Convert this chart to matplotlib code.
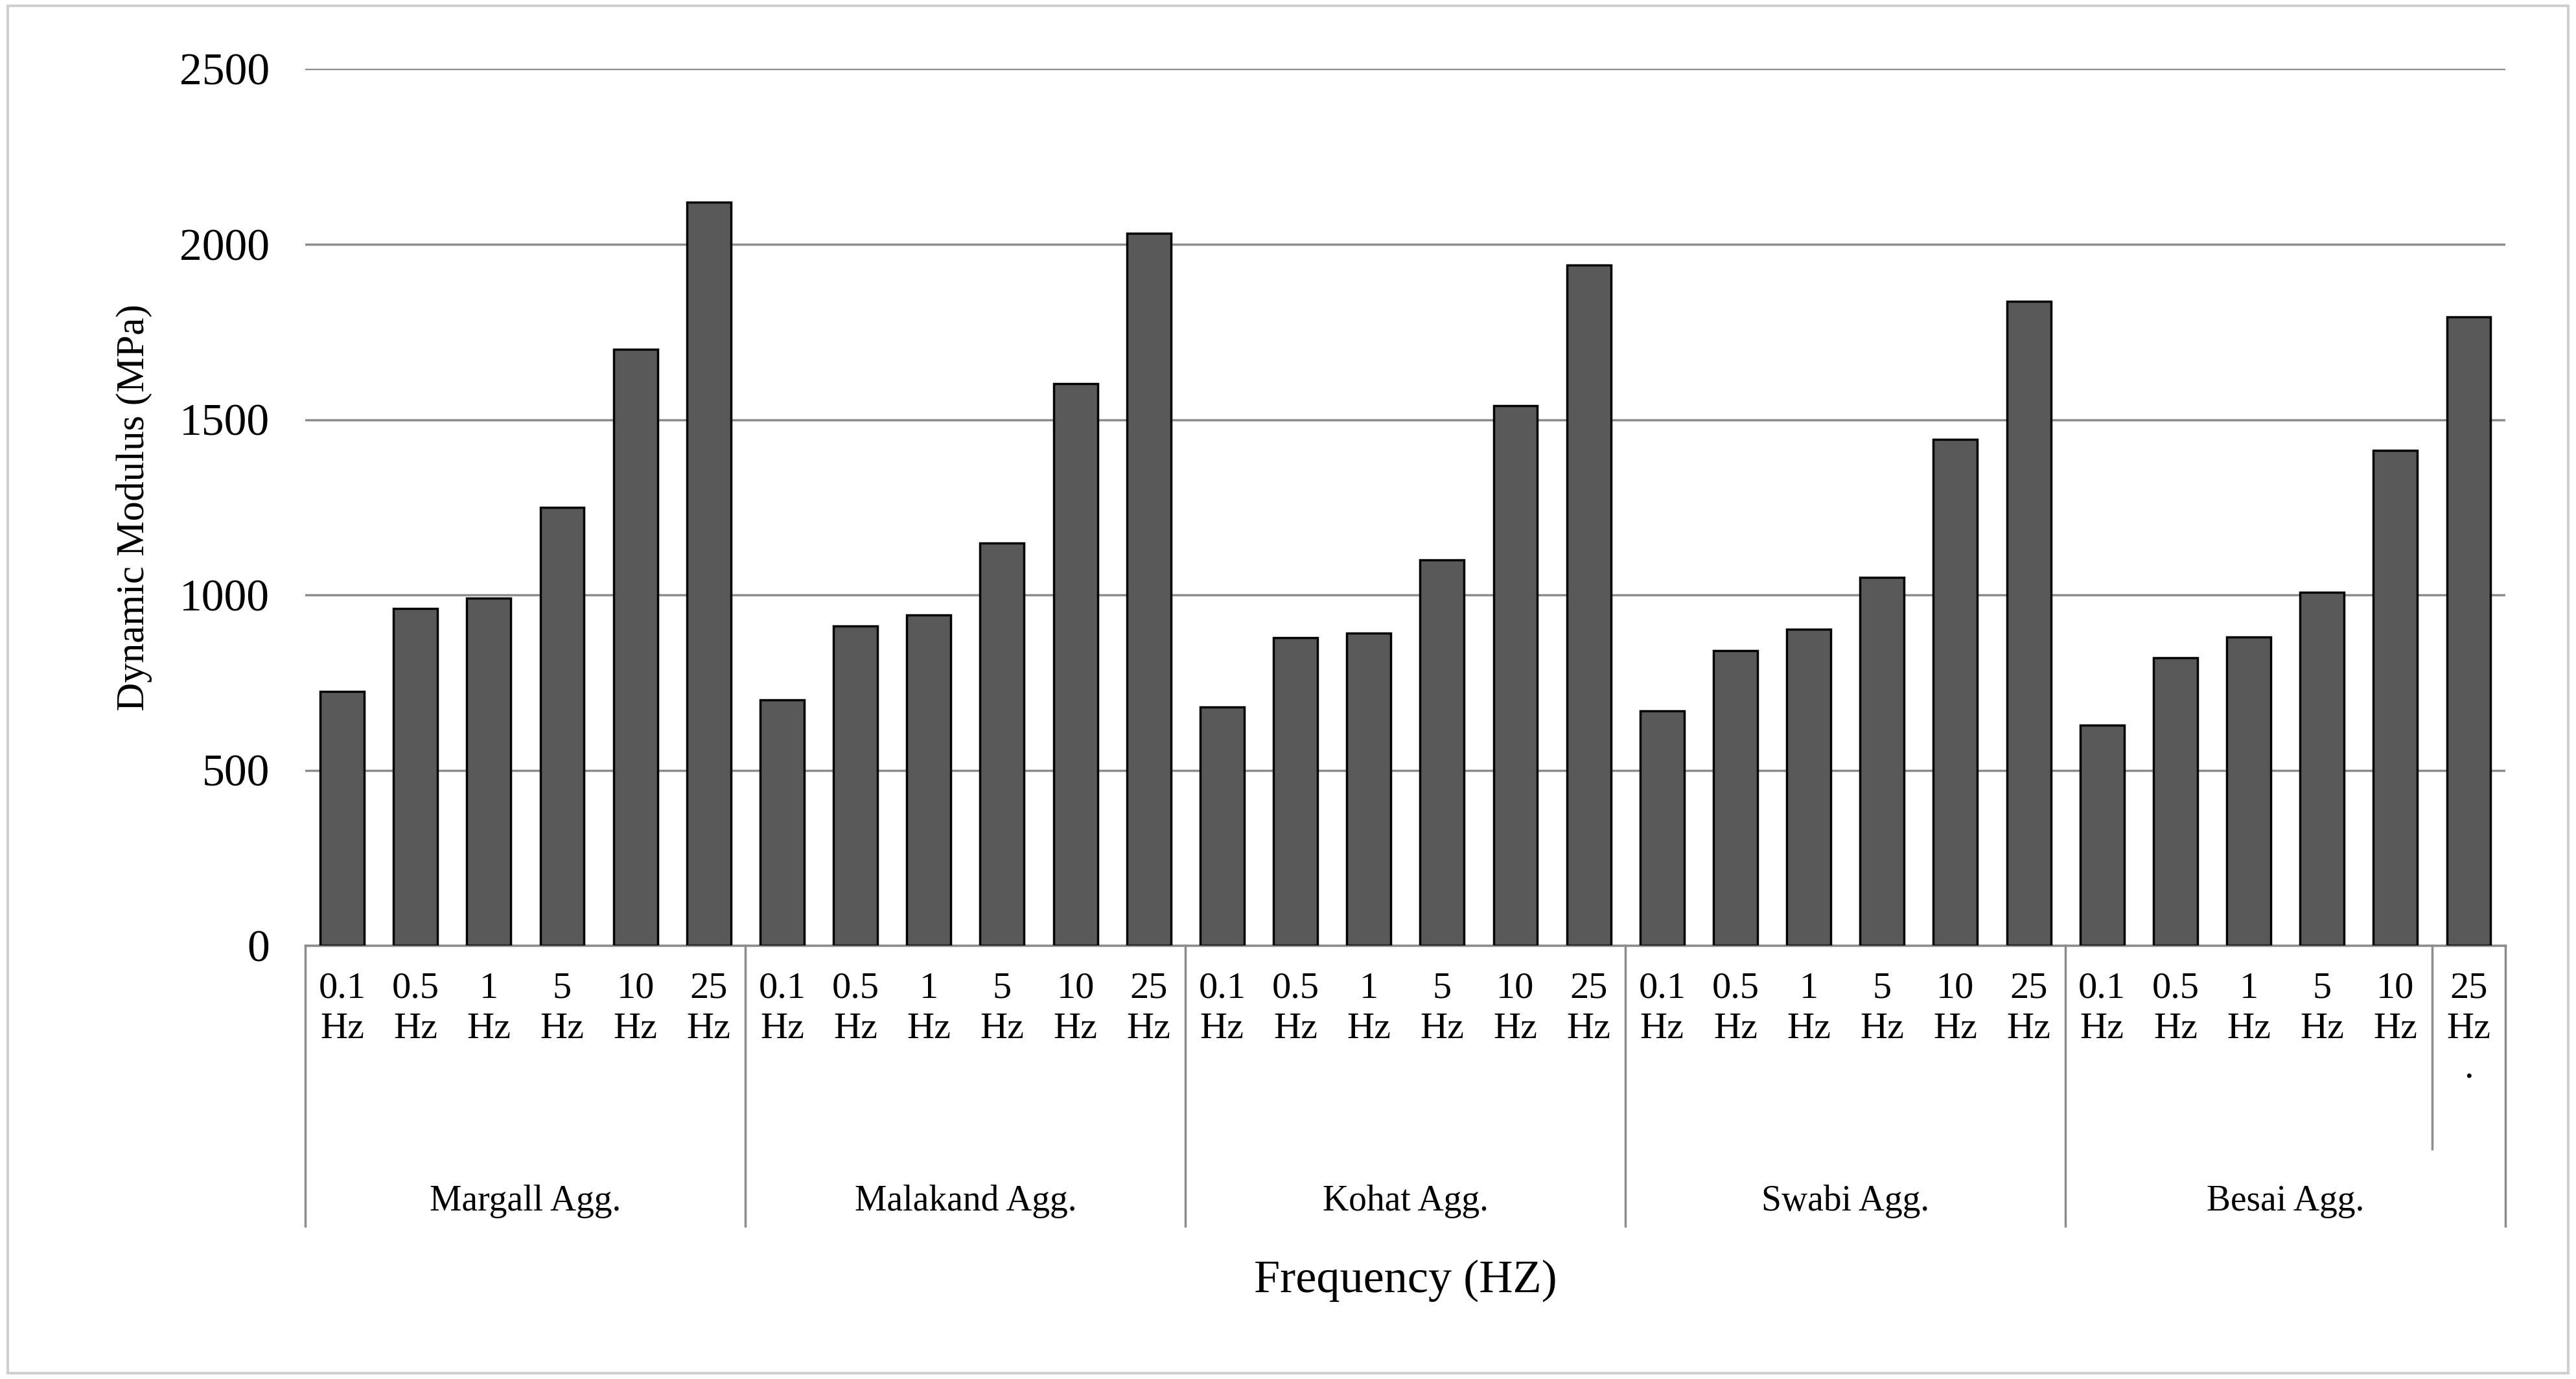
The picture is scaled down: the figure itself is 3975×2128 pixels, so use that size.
import matplotlib
matplotlib.use('Agg')
import matplotlib.pyplot as plt
from matplotlib.patches import Rectangle

groups = ['Margall Agg.', 'Malakand Agg.', 'Kohat Agg.', 'Swabi Agg.', 'Besai Agg.']
freqs = ['0.1', '0.5', '1', '5', '10', '25']
margall = [725, 962, 990, 1250, 1700, 2120]
malakand = [700, 912, 942, 1148, 1602, 2032]
kohat = [680, 878, 892, 1100, 1540, 1940]
swabi = [670, 842, 903, 1050, 1443, 1838]
besai = [628, 820, 880, 1008, 1412, 1793]
series = [margall, malakand, kohat, swabi, besai]

plt.rcParams['font.family'] = ['Liberation Serif', 'DejaVu Serif']
fig = plt.figure(figsize=(39.75, 21.28), dpi=100)
fig.patches.append(Rectangle((0.003, 0.004), 0.994, 0.992, transform=fig.transFigure,
                             fill=False, edgecolor='#d0d0d0', linewidth=3))
ax = fig.add_axes([0.1186, 0.3143, 0.854, 0.6357])

vals = [v for s in series for v in s]
xs = list(range(len(vals)))
ax.bar(xs, vals, width=0.6, color='#595959', edgecolor='black', linewidth=2.5, zorder=3)
ax.set_xlim(-0.5, len(vals) - 0.5)
ax.set_ylim(0, 2500)
ax.set_yticks(range(0, 2501, 500))
ax.yaxis.grid(True, color='#8c8c8c', linewidth=2.5, zorder=0)
ax.tick_params(axis='y', length=0, labelsize=50, pad=40)
ax.set_xticks([])
for s in ['top', 'right', 'left']:
    ax.spines[s].set_visible(False)
ax.spines['bottom'].set_color('#8c8c8c')
ax.spines['bottom'].set_linewidth(2.5)
ax.set_ylabel('Dynamic Modulus (MPa)', fontsize=44, labelpad=30)

trans = ax.get_xaxis_transform()
for i, x in enumerate(xs):
    lab = freqs[i % 6] + '\nHz'
    if i == len(xs) - 1:
        lab += '\n.'
    ax.text(x, -0.03, lab, transform=trans, ha='center', va='top', fontsize=42,
            linespacing=1.25)
for g in range(len(groups) + 1):
    ax.plot([g * 6 - 0.5] * 2, [0, -0.32], transform=trans, color='#8c8c8c',
            linewidth=2.5, clip_on=False)
ax.plot([28.5, 28.5], [0, -0.232], transform=trans, color='#8c8c8c',
        linewidth=2.5, clip_on=False)
for g, name in enumerate(groups):
    ax.text(g * 6 + 2.5, -0.292, name, transform=trans, ha='center', va='center', fontsize=40)
ax.text(0.5, -0.382, 'Frequency (HZ)', transform=ax.transAxes, ha='center', va='center',
        fontsize=52)

fig.savefig('out.png', dpi=100)
